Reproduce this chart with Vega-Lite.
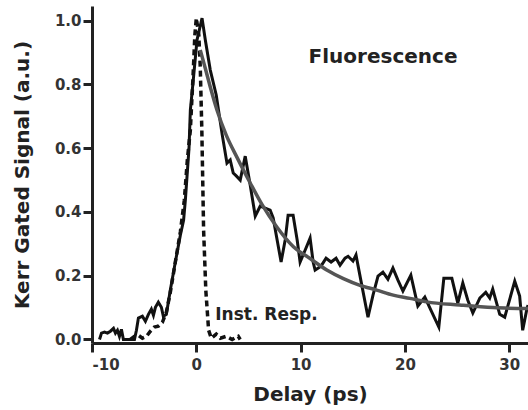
{
  "$schema": "https://vega.github.io/schema/vega-lite/v6.json",
  "width": 436,
  "height": 337,
  "autosize": "none",
  "padding": {"left": 92, "top": 6, "right": 0, "bottom": 67},
  "background": "white",
  "config": {"view": {"stroke": null}},
  "datasets": {
    "kerr": [
      {"t": -9.28, "v": 0.0}, {"t": -9.09, "v": 0.02}, {"t": -8.8, "v": 0.023}, {"t": -8.52, "v": 0.02},
      {"t": -8.23, "v": 0.026}, {"t": -7.94, "v": 0.035}, {"t": -7.75, "v": 0.02}, {"t": -7.56, "v": 0.029},
      {"t": -7.37, "v": 0.01}, {"t": -7.18, "v": 0.032}, {"t": -6.99, "v": 0.0}, {"t": -6.51, "v": 0.0},
      {"t": -5.93, "v": 0.0}, {"t": -5.74, "v": 0.029}, {"t": -5.55, "v": 0.067}, {"t": -5.17, "v": 0.073},
      {"t": -4.88, "v": 0.057}, {"t": -4.59, "v": 0.079}, {"t": -4.31, "v": 0.095}, {"t": -4.11, "v": 0.076},
      {"t": -3.92, "v": 0.101}, {"t": -3.64, "v": 0.117}, {"t": -3.35, "v": 0.101}, {"t": -3.16, "v": 0.073},
      {"t": -2.87, "v": 0.079}, {"t": -2.49, "v": 0.155}, {"t": -2.01, "v": 0.243}, {"t": -1.53, "v": 0.327},
      {"t": -1.22, "v": 0.374}, {"t": -1.05, "v": 0.437}, {"t": -0.7, "v": 0.6}, {"t": -0.57, "v": 0.72},
      {"t": -0.29, "v": 0.814}, {"t": 0.07, "v": 0.94}, {"t": 0.55, "v": 1.008}, {"t": 0.86, "v": 0.94},
      {"t": 1.34, "v": 0.845}, {"t": 1.91, "v": 0.767}, {"t": 2.49, "v": 0.641}, {"t": 2.94, "v": 0.553},
      {"t": 3.25, "v": 0.563}, {"t": 3.54, "v": 0.522}, {"t": 3.83, "v": 0.513}, {"t": 4.21, "v": 0.5},
      {"t": 4.69, "v": 0.575}, {"t": 5.17, "v": 0.484}, {"t": 5.65, "v": 0.387}, {"t": 6.12, "v": 0.418},
      {"t": 6.6, "v": 0.412}, {"t": 7.08, "v": 0.406}, {"t": 7.37, "v": 0.381}, {"t": 7.75, "v": 0.312},
      {"t": 8.13, "v": 0.243}, {"t": 8.52, "v": 0.312}, {"t": 8.8, "v": 0.39}, {"t": 9.28, "v": 0.39},
      {"t": 9.67, "v": 0.312}, {"t": 9.95, "v": 0.243}, {"t": 10.43, "v": 0.28}, {"t": 10.91, "v": 0.318},
      {"t": 11.2, "v": 0.243}, {"t": 11.39, "v": 0.218}, {"t": 11.96, "v": 0.23}, {"t": 12.44, "v": 0.255},
      {"t": 12.92, "v": 0.243}, {"t": 13.4, "v": 0.255}, {"t": 13.78, "v": 0.233}, {"t": 14.26, "v": 0.255},
      {"t": 14.55, "v": 0.261}, {"t": 15.02, "v": 0.246}, {"t": 15.31, "v": 0.265}, {"t": 15.79, "v": 0.183},
      {"t": 16.46, "v": 0.07}, {"t": 16.94, "v": 0.139}, {"t": 17.42, "v": 0.199}, {"t": 17.89, "v": 0.211},
      {"t": 18.37, "v": 0.189}, {"t": 18.85, "v": 0.224}, {"t": 19.33, "v": 0.186}, {"t": 19.81, "v": 0.152},
      {"t": 20.57, "v": 0.202}, {"t": 21.24, "v": 0.105}, {"t": 21.91, "v": 0.133}, {"t": 22.49, "v": 0.092},
      {"t": 23.25, "v": 0.039}, {"t": 23.73, "v": 0.192}, {"t": 24.5, "v": 0.192}, {"t": 25.07, "v": 0.114},
      {"t": 25.55, "v": 0.177}, {"t": 26.03, "v": 0.123}, {"t": 26.51, "v": 0.083}, {"t": 27.18, "v": 0.13},
      {"t": 27.75, "v": 0.148}, {"t": 28.13, "v": 0.13}, {"t": 28.42, "v": 0.158}, {"t": 29.09, "v": 0.079},
      {"t": 29.57, "v": 0.07}, {"t": 30.53, "v": 0.183}, {"t": 31.0, "v": 0.136}, {"t": 31.29, "v": 0.029},
      {"t": 31.67, "v": 0.092}, {"t": 31.8, "v": 0.108}
    ],
    "irf": [
      {"t": -6.32, "v": 0.0}, {"t": -5.93, "v": 0.01}, {"t": -5.55, "v": 0.013}, {"t": -5.17, "v": 0.004},
      {"t": -4.78, "v": 0.01}, {"t": -4.4, "v": 0.026}, {"t": -4.02, "v": 0.039}, {"t": -3.64, "v": 0.042},
      {"t": -3.25, "v": 0.054}, {"t": -2.87, "v": 0.086}, {"t": -2.49, "v": 0.148}, {"t": -2.01, "v": 0.243},
      {"t": -1.53, "v": 0.337}, {"t": -1.15, "v": 0.437}, {"t": -0.86, "v": 0.563}, {"t": -0.57, "v": 0.657},
      {"t": -0.33, "v": 0.814}, {"t": -0.14, "v": 0.955}, {"t": 0.0, "v": 1.008}, {"t": 0.24, "v": 0.955},
      {"t": 0.38, "v": 0.855}, {"t": 0.53, "v": 0.657}, {"t": 0.7, "v": 0.343}, {"t": 0.91, "v": 0.155},
      {"t": 1.18, "v": 0.029}, {"t": 1.44, "v": 0.004}, {"t": 1.91, "v": 0.017}, {"t": 2.3, "v": 0.004},
      {"t": 2.87, "v": 0.01}, {"t": 3.44, "v": 0.0}, {"t": 4.02, "v": 0.01}, {"t": 4.21, "v": 0.0}
    ],
    "fit": [
      {"t": 0.38, "v": 0.908}, {"t": 0.86, "v": 0.851}, {"t": 1.34, "v": 0.792}, {"t": 1.98, "v": 0.72},
      {"t": 2.87, "v": 0.641}, {"t": 3.89, "v": 0.572}, {"t": 5.17, "v": 0.491}, {"t": 6.32, "v": 0.422},
      {"t": 7.72, "v": 0.353}, {"t": 9.31, "v": 0.291}, {"t": 10.91, "v": 0.254}, {"t": 12.51, "v": 0.218},
      {"t": 14.1, "v": 0.191}, {"t": 15.69, "v": 0.17}, {"t": 17.29, "v": 0.155}, {"t": 18.88, "v": 0.139},
      {"t": 20.48, "v": 0.129}, {"t": 22.08, "v": 0.118}, {"t": 25.26, "v": 0.108}, {"t": 28.45, "v": 0.1},
      {"t": 31.8, "v": 0.097}
    ],
    "labels": [
      {"label": "Fluorescence", "t": 17.9, "v": 0.867, "kind": "fl"},
      {"label": "Inst. Resp.", "t": 1.82, "v": 0.061, "kind": "ir"}
    ]
  },
  "encoding": {
    "x": {
      "field": "t", "type": "quantitative",
      "scale": {"domain": [-10, 31.8], "nice": false, "zero": false},
      "axis": {
        "values": [-10, 0, 10, 20, 30],
        "labelExpr": "replace(datum.label, '\u2212', '-')",
        "grid": false,
        "domain": true,
        "domainColor": "#222222",
        "domainWidth": 3,
        "ticks": true,
        "tickColor": "#222222",
        "tickWidth": 3,
        "tickSize": 9,
        "labelFont": "DejaVu Sans",
        "labelFontWeight": "bold",
        "labelFontSize": 15,
        "labelColor": "#333333",
        "labelPadding": 5,
        "title": "Delay (ps)",
        "titleFont": "DejaVu Sans",
        "titleFontWeight": "bold",
        "titleFontSize": 20,
        "titleColor": "#222222",
        "titlePadding": 12
      }
    },
    "y": {
      "field": "v", "type": "quantitative",
      "scale": {"domain": [-0.011, 1.046], "nice": false, "zero": false},
      "axis": {
        "values": [0, 0.2, 0.4, 0.6, 0.8, 1.0],
        "format": ".1f",
        "grid": false,
        "domain": true,
        "domainColor": "#222222",
        "domainWidth": 3,
        "ticks": true,
        "tickColor": "#222222",
        "tickWidth": 3,
        "tickSize": 9,
        "labelFont": "DejaVu Sans",
        "labelFontWeight": "bold",
        "labelFontSize": 15,
        "labelColor": "#333333",
        "labelPadding": 2,
        "title": "Kerr Gated Signal (a.u.)",
        "titleFont": "DejaVu Sans",
        "titleFontWeight": "bold",
        "titleFontSize": 20,
        "titleColor": "#222222",
        "titlePadding": 22
      }
    }
  },
  "layer": [
    {
      "data": {"name": "irf"},
      "mark": {"type": "line", "color": "#111111", "strokeWidth": 3.5, "strokeDash": [6, 4], "clip": true}
    },
    {
      "data": {"name": "kerr"},
      "mark": {"type": "line", "color": "#111111", "strokeWidth": 3, "clip": true}
    },
    {
      "data": {"name": "fit"},
      "mark": {"type": "line", "color": "#555555", "strokeWidth": 3.5, "interpolate": "monotone", "clip": true}
    },
    {
      "data": {"name": "labels"},
      "transform": [{"filter": "datum.kind == 'fl'"}],
      "mark": {"type": "text", "font": "DejaVu Sans", "fontWeight": "bold", "fontSize": 20, "color": "#222222", "align": "center", "baseline": "alphabetic"},
      "encoding": {"text": {"field": "label"}}
    },
    {
      "data": {"name": "labels"},
      "transform": [{"filter": "datum.kind == 'ir'"}],
      "mark": {"type": "text", "font": "DejaVu Sans", "fontWeight": "bold", "fontSize": 17, "color": "#222222", "align": "left", "baseline": "alphabetic"},
      "encoding": {"text": {"field": "label"}}
    }
  ]
}
